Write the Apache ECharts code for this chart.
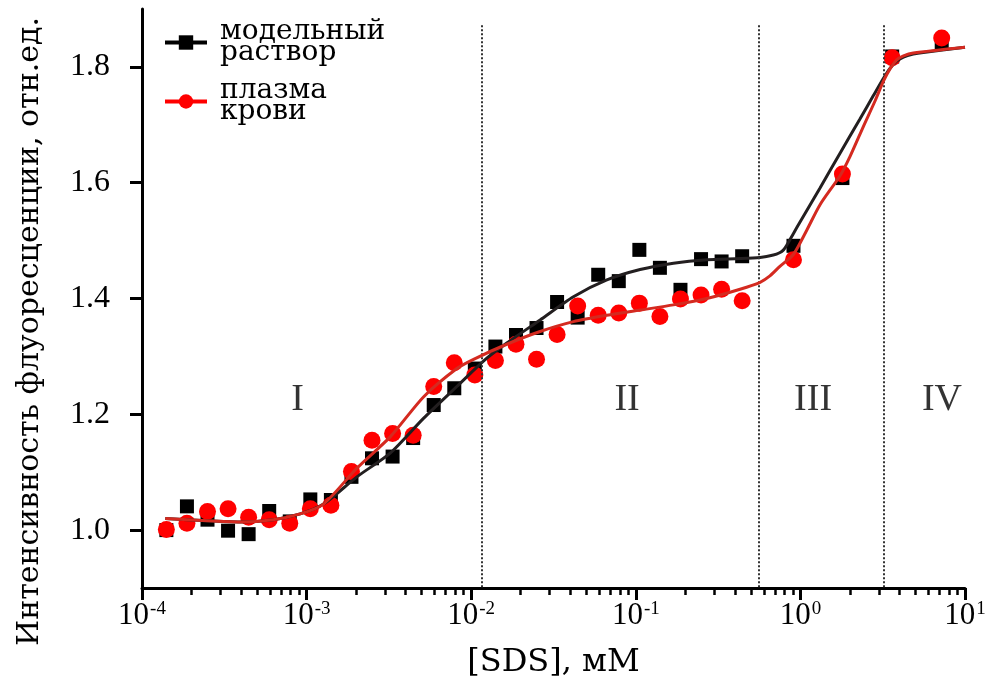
<!DOCTYPE html>
<html>
<head>
<meta charset="utf-8">
<script src="https://cdn.jsdelivr.net/npm/echarts@6/dist/echarts.min.js"></script>
<style>
html,body{margin:0;padding:0;background:#fff;}
#chart{width:994px;height:689px;}
</style>
</head>
<body>
<div id="chart"></div>
<script>
// SDS concentrations, mM
const concentrations = [1.406e-4, 1.875e-4, 2.500e-4, 3.333e-4, 4.444e-4, 5.926e-4, 7.901e-4, 1.0535e-3, 1.4047e-3, 1.873e-3, 2.497e-3, 3.330e-3, 4.440e-3, 5.920e-3, 7.893e-3, 1.0522e-2, 1.403e-2, 1.871e-2, 2.494e-2, 3.325e-2, 4.434e-2, 5.911e-2, 7.882e-2, 0.1051, 0.1401, 0.1868, 0.2491, 0.3321, 0.4428, 0.9077, 1.80, 3.61, 7.22];
// модельный раствор
const modelValues = [1.000, 1.041, 1.018, 0.999, 0.993, 1.033, 1.015, 1.053, 1.052, 1.092, 1.124, 1.127, 1.159, 1.216, 1.245, 1.279, 1.317, 1.337, 1.349, 1.394, 1.367, 1.441, 1.430, 1.484, 1.453, 1.415, 1.468, 1.464, 1.473, 1.491, 1.608, 1.818, 1.841];
// плазма крови
const plasmaValues = [1.001, 1.012, 1.032, 1.037, 1.022, 1.018, 1.012, 1.037, 1.043, 1.101, 1.155, 1.167, 1.164, 1.248, 1.289, 1.268, 1.293, 1.321, 1.295, 1.338, 1.387, 1.371, 1.375, 1.392, 1.369, 1.399, 1.406, 1.416, 1.396, 1.467, 1.615, 1.816, 1.850];
// fitted curves
const modelFitX = [1.385e-4, 2.48e-4, 3.95e-4, 6.26e-4, 9.14e-4, 1.267e-3, 2.021e-3, 3.22e-3, 5.13e-3, 8.18e-3, 1.187e-2, 1.646e-2, 2.624e-2, 4.18e-2, 6.67e-2, 0.1062, 0.1693, 0.270, 0.430, 0.569, 0.685, 0.7475, 0.790, 0.826, 0.906, 0.995, 1.316, 1.741, 2.30, 2.77, 3.19, 3.51, 3.85, 4.23, 4.85, 5.58, 10];
const modelFitY = [1.020, 1.016, 1.014, 1.018, 1.028, 1.045, 1.092, 1.133, 1.193, 1.248, 1.292, 1.323, 1.363, 1.403, 1.432, 1.450, 1.461, 1.467, 1.469, 1.471, 1.475, 1.479, 1.484, 1.492, 1.512, 1.532, 1.591, 1.651, 1.710, 1.750, 1.780, 1.798, 1.810, 1.817, 1.822, 1.825, 1.834];
const plasmaFitX = [1.385e-4, 2.48e-4, 3.95e-4, 6.26e-4, 9.14e-4, 1.267e-3, 2.021e-3, 3.22e-3, 5.13e-3, 8.18e-3, 1.034e-2, 1.646e-2, 2.624e-2, 4.18e-2, 6.67e-2, 0.1062, 0.1693, 0.270, 0.430, 0.569, 0.653, 0.7475, 0.906, 1.093, 1.316, 1.741, 2.00, 2.412, 2.85, 3.19, 3.51, 3.85, 4.23, 4.85, 10];
const plasmaFitY = [1.020, 1.016, 1.014, 1.018, 1.028, 1.045, 1.107, 1.161, 1.230, 1.279, 1.295, 1.321, 1.343, 1.360, 1.371, 1.380, 1.389, 1.400, 1.416, 1.428, 1.439, 1.455, 1.476, 1.518, 1.562, 1.612, 1.645, 1.697, 1.742, 1.775, 1.797, 1.812, 1.819, 1.824, 1.834];
// region boundaries and labels
const regionBounds = [0.01161, 0.5556, 3.221];
const regionNames = ['I', 'II', 'III', 'IV'];
const regionLabelX = [8.81e-4, 0.0885, 1.194, 7.25];
const regionLabelY = [1.2245, 1.2245, 1.2245, 1.2245];
const yTickValues = [1.0, 1.2, 1.4, 1.6, 1.8];
const seriesNames = ['модельный\nраствор', 'плазма\nкрови'];

const FONT = 'Liberation Serif';
const WIDE = 'DejaVu Serif';
const zip = (xs, ys) => xs.map((x, i) => [x, ys[i]]);

const chart = echarts.init(document.getElementById('chart'), null, {renderer: 'canvas'});
const option = {
  animation: false,
  backgroundColor: '#ffffff',
  grid: {left: 142, right: 29, top: 9, bottom: 101, containLabel: false, outerBoundsMode: 'none'},
  legend: {
    orient: 'vertical',
    left: 163,
    top: 18,
    padding: 0,
    itemWidth: 42,
    itemHeight: 18,
    itemGap: 10,
    textStyle: {fontFamily: WIDE, fontSize: 28, lineHeight: 21, color: '#000', padding: [0, 0, 0, 8]},
    data: [
      {name: seriesNames[0], lineStyle: {opacity: 1, color: '#000', width: 4}, itemStyle: {color: '#000'}},
      {name: seriesNames[1], lineStyle: {opacity: 1, color: '#ff0000', width: 4}, itemStyle: {color: '#ff0000'}}
    ]
  },
  xAxis: {
    type: 'log',
    logBase: 10,
    min: 1e-4,
    max: 10,
    name: '[SDS], мМ',
    nameLocation: 'middle',
    nameGap: 59,
    nameTextStyle: {fontFamily: WIDE, fontSize: 32, color: '#000'},
    axisLine: {show: true, lineStyle: {color: '#000', width: 3}},
    axisTick: {show: true, length: 12, lineStyle: {color: '#000', width: 3}},
    minorTick: {show: true, splitNumber: 9, length: 7, lineStyle: {color: '#000', width: 2.5}},
    splitLine: {show: false},
    minorSplitLine: {show: false},
    axisLabel: {
      margin: 12,
      formatter: function (v) {
        const e = Math.round(Math.log10(v));
        return '{b|10}{s|' + e + '}';
      },
      rich: {
        b: {fontFamily: FONT, fontSize: 31, color: '#000'},
        s: {fontFamily: FONT, fontSize: 19, color: '#000', verticalAlign: 'top', padding: [0, 0, 0, 1]}
      }
    }
  },
  yAxis: {
    type: 'value',
    min: 0.9,
    max: 1.9,
    name: 'Интенсивность флуоресценции, отн.ед.',
    nameLocation: 'middle',
    nameGap: 97,
    nameTextStyle: {fontFamily: WIDE, fontSize: 30, color: '#000', padding: [0, 66, 0, 0]},
    axisLine: {show: true, lineStyle: {color: '#000', width: 3}},
    axisTick: {show: true, length: 12, customValues: yTickValues, lineStyle: {color: '#000', width: 3}},
    splitLine: {show: false},
    axisLabel: {
      customValues: yTickValues,
      margin: 32,
      fontFamily: FONT,
      fontSize: 32,
      color: '#000',
      formatter: function (v) { return Number(v).toFixed(1); }
    }
  },
  series: [
    {
      name: seriesNames[0],
      type: 'line',
      data: zip(concentrations, modelValues),
      symbol: 'rect',
      symbolSize: 14,
      showSymbol: true,
      itemStyle: {color: '#000'},
      lineStyle: {opacity: 0, color: '#000'},
      z: 2
    },
    {
      name: seriesNames[1],
      type: 'line',
      data: zip(concentrations, plasmaValues),
      symbol: 'circle',
      symbolSize: 17,
      showSymbol: true,
      itemStyle: {color: '#ff0000'},
      lineStyle: {opacity: 0, color: '#ff0000'},
      z: 3
    },
    {
      name: 'fitModel',
      type: 'line',
      data: zip(modelFitX, modelFitY),
      symbol: 'none',
      smooth: 0.25,
      lineStyle: {color: '#231f20', width: 3},
      z: 4,
      markLine: {
        silent: true,
        symbol: 'none',
        label: {show: false},
        lineStyle: {color: '#333', width: 2, type: [2, 2]},
        data: regionBounds.map(b => [{coord: [b, 1.872]}, {coord: [b, 0.9]}])
      }
    },
    {
      name: 'fitPlasma',
      type: 'line',
      data: zip(plasmaFitX, plasmaFitY),
      symbol: 'none',
      smooth: 0.25,
      lineStyle: {color: '#d42a20', width: 3},
      z: 5
    },
    {
      name: 'regions',
      type: 'scatter',
      data: regionNames.map((n, i) => ({name: n, value: [regionLabelX[i], regionLabelY[i]]})),
      symbolSize: 1,
      itemStyle: {color: 'transparent'},
      label: {show: true, position: 'inside', formatter: '{b}', fontFamily: FONT, fontSize: 38, color: '#000'},
      z: 6
    }
  ]
};
chart.setOption(option);
</script>
</body>
</html>
